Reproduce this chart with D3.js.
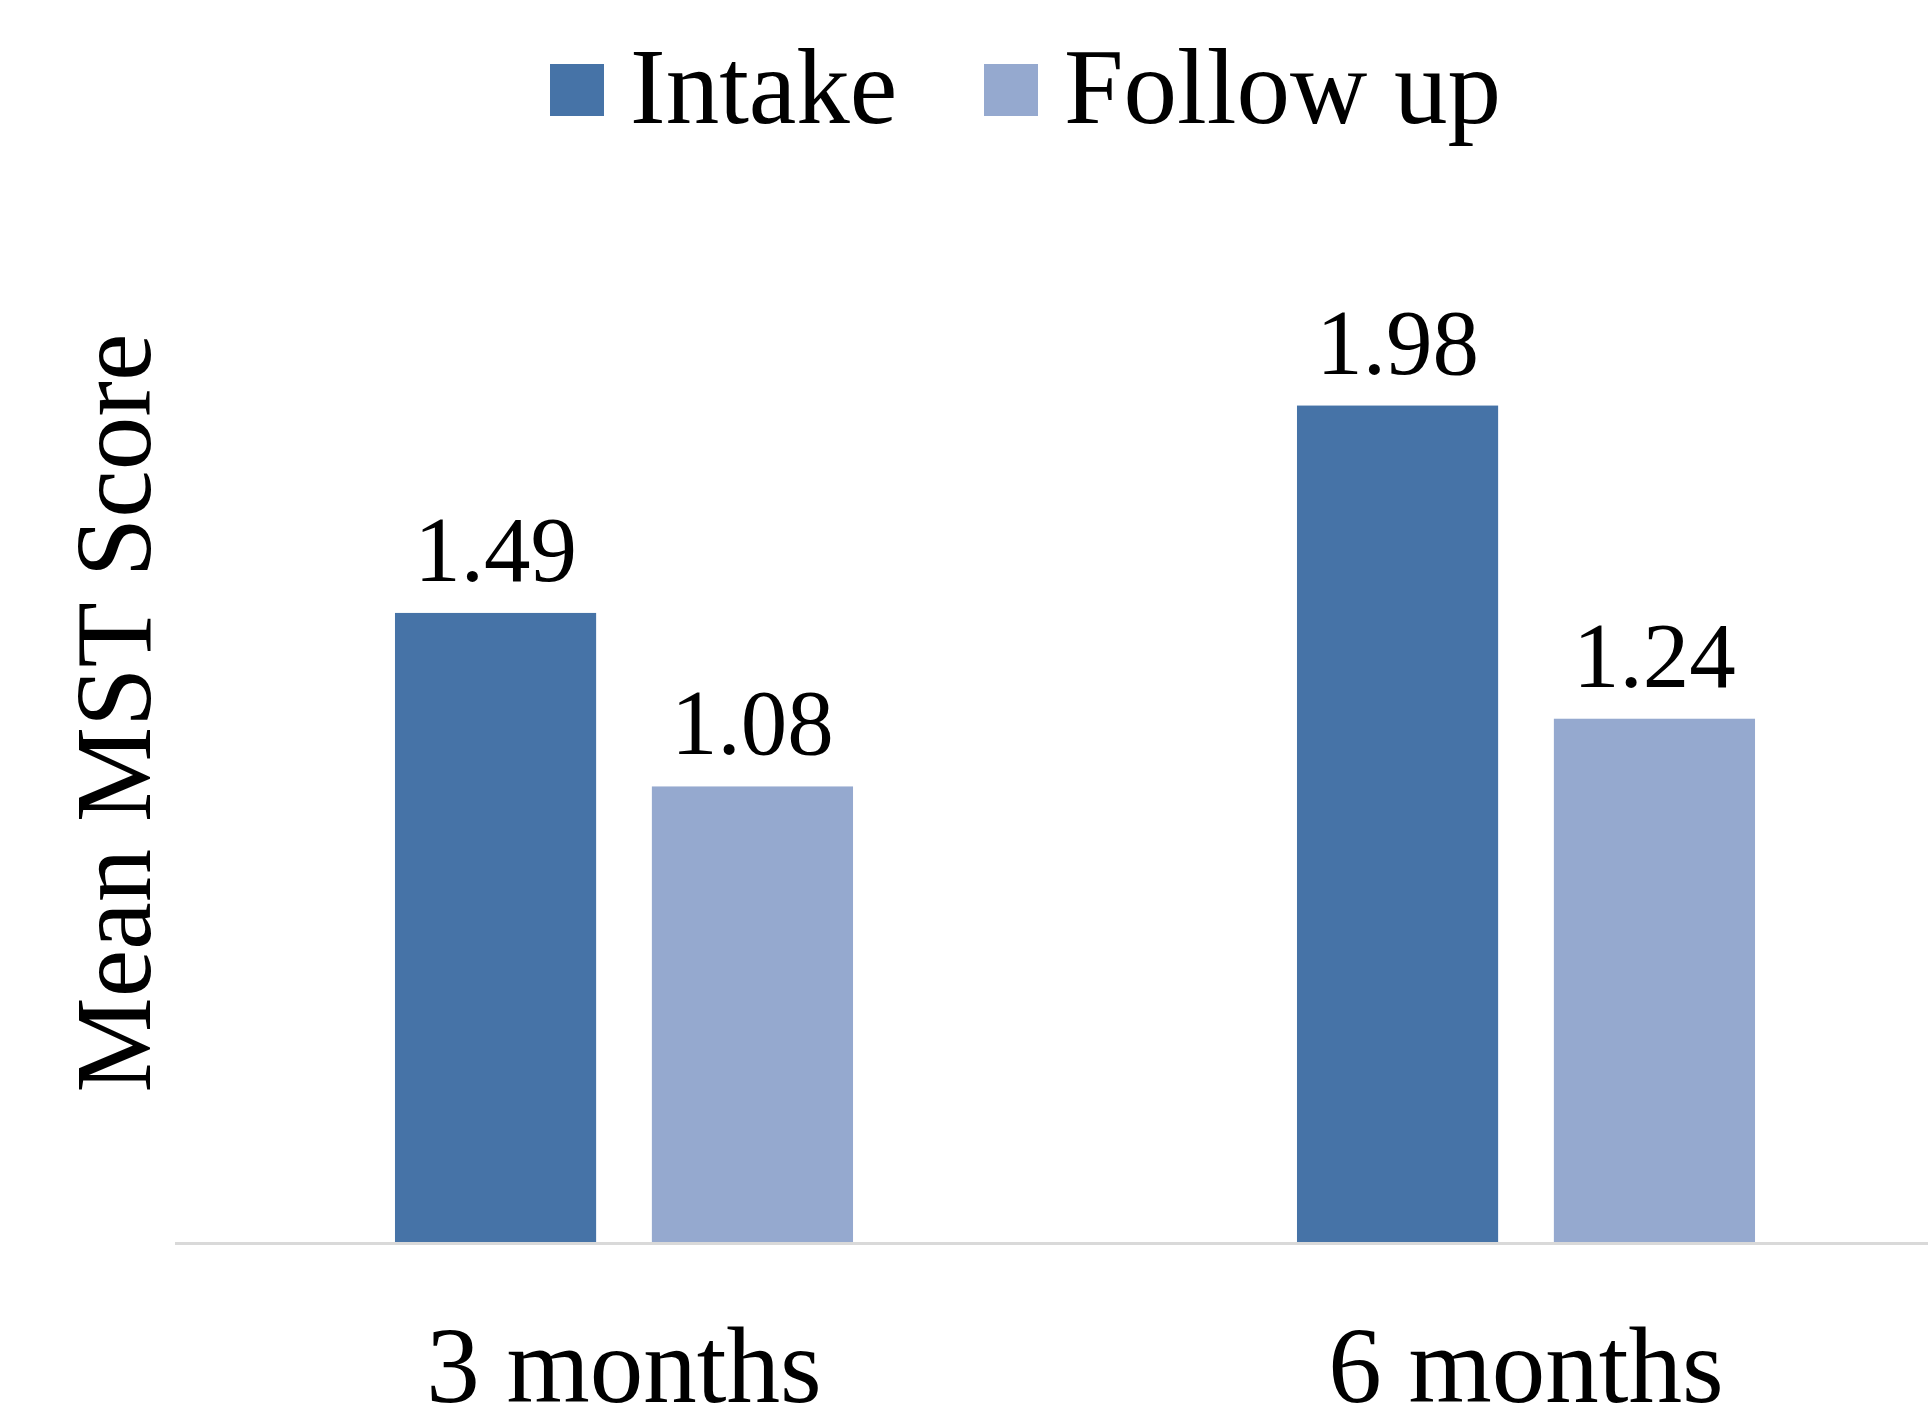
<!DOCTYPE html>
<html>
<head>
<meta charset="utf-8">
<script src="https://cdn.jsdelivr.net/npm/d3@7"></script>
<style>
  html, body { margin: 0; padding: 0; background: #fff; }
  svg { display: block; }
  text { font-family: "Liberation Serif", "Times New Roman", serif; fill: #000; }
</style>
</head>
<body>
<script>
// Mean MST score by follow-up period
const categories = ["3 months", "6 months"];
const series = ["Intake", "Follow up"];
const intakeValues = [1.49, 1.98];
const followUpValues = [1.08, 1.24];
const seriesColors = ["#4673a7", "#95a9cf"];
const yTitle = "Mean MST Score";

const W = 1928, H = 1411;
const svg = d3.select("body").append("svg").attr("width", W).attr("height", H);

const data = categories.map((c, i) => ({
  category: c,
  values: [
    { series: series[0], value: intakeValues[i] },
    { series: series[1], value: followUpValues[i] }
  ]
}));

const baseY = 1243.5;
const y = d3.scaleLinear().domain([0, 2.5]).range([baseY, 185.5]);

const x0 = d3.scaleBand()
  .domain(categories)
  .range([173, 1977])
  .paddingInner(0.4922)
  .paddingOuter(0.2461);

const x1 = d3.scaleBand()
  .domain(series)
  .range([0, x0.bandwidth()])
  .paddingInner(0.217);

const color = d3.scaleOrdinal().domain(series).range(seriesColors);

// bars
const groups = svg.append("g").selectAll("g")
  .data(data).join("g")
  .attr("transform", d => `translate(${x0(d.category)},0)`);

groups.selectAll("rect")
  .data(d => d.values).join("rect")
  .attr("x", d => x1(d.series))
  .attr("y", d => y(d.value))
  .attr("width", x1.bandwidth())
  .attr("height", d => y(0) - y(d.value))
  .attr("fill", d => color(d.series));

// value labels
groups.selectAll("text.val")
  .data(d => d.values).join("text")
  .attr("class", "val")
  .attr("x", d => x1(d.series) + x1.bandwidth() / 2)
  .attr("y", d => y(d.value) - 32)
  .attr("text-anchor", "middle")
  .attr("font-size", 93)
  .text(d => d.value.toFixed(2));

// category axis
const xAxis = svg.append("g")
  .attr("transform", `translate(0,${baseY})`)
  .call(d3.axisBottom(x0).tickSize(0).tickPadding(0));
xAxis.select(".domain").remove();
xAxis.append("line")
  .attr("x1", 175).attr("x2", W)
  .attr("y1", 0).attr("y2", 0)
  .attr("stroke", "#d9d9d9").attr("stroke-width", 3);
xAxis.selectAll(".tick text")
  .attr("dy", null)
  .attr("y", 158)
  .attr("font-size", 107)
  .attr("font-family", "Liberation Serif, Times New Roman, serif")
  .attr("fill", "#000");

// y axis title
svg.append("text")
  .attr("transform", "translate(150,713) rotate(-90)")
  .attr("text-anchor", "middle")
  .attr("font-size", 107)
  .text(yTitle);

// legend
const legendItems = [
  { name: series[0], sx: 550, tx: 630 },
  { name: series[1], sx: 984, tx: 1064 }
];
const legend = svg.append("g");
legend.selectAll("rect")
  .data(legendItems).join("rect")
  .attr("x", d => d.sx).attr("y", 64)
  .attr("width", 54).attr("height", 52)
  .attr("fill", d => color(d.name));
legend.selectAll("text")
  .data(legendItems).join("text")
  .attr("x", d => d.tx).attr("y", 123)
  .attr("font-size", 107)
  .text(d => d.name);
</script>
</body>
</html>
